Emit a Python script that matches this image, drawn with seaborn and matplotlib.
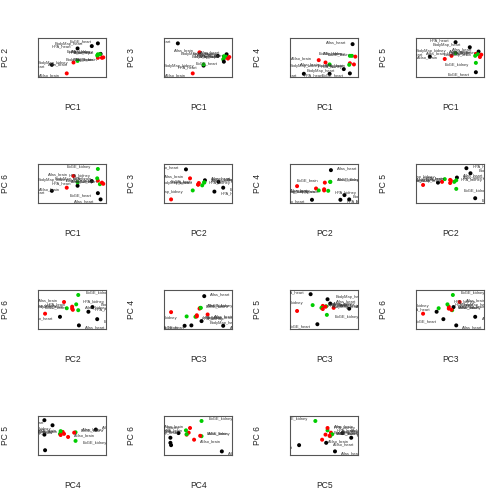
import matplotlib
matplotlib.use("Agg")
import matplotlib.pyplot as plt
import seaborn as sns
import pandas as pd

samples = ["HPA_brain", "HPA_heart", "HPA_kidney", "AltIso_brain", "AltIso_heart",
           "Atlas_brain", "Atlas_heart", "Atlas_kidney", "BodyMap_brain", "BodyMap_heart",
           "BodyMap_kidney", "EoGE_brain", "EoGE_heart", "EoGE_kidney"]
tissue = ["brain", "heart", "kidney", "brain", "heart",
          "brain", "heart", "kidney", "brain", "heart",
          "kidney", "brain", "heart", "kidney"]
pc1 = [-0.17, -0.47, -0.18, -0.63, -0.85, -0.53, -0.13, -0.14, -0.11, -0.26, -0.47, -0.09, -0.17, -0.17]
pc2 = [-0.05, 0.19, 0.01, -0.45, -0.23, -0.17, 0.05, 0.04, -0.05, 0.25, -0.13, -0.04, 0.32, 0.04]
pc3 = [0.03, -0.15, 0.01, -0.35, 0.42, 0.19, 0.14, 0.08, 0.03, 0.10, -0.12, 0.07, -0.05, 0.09]
pc4 = [-0.04, -0.31, -0.08, 0.04, -0.31, -0.02, 0.45, 0.15, -0.07, -0.19, -0.07, 0.13, -0.30, 0.15]
pc5 = [0.15, 0.45, 0.10, 0.02, 0.08, 0.10, 0.21, 0.14, 0.07, 0.32, 0.17, 0.13, -0.32, -0.08]
pc6 = [0.15, 0.02, 0.21, -0.03, -0.11, 0.27, -0.33, 0.06, 0.10, 0.14, 0.11, 0.07, -0.17, 0.45]

df = pd.DataFrame({"sample": samples, "tissue": tissue,
                   "PC1": pc1, "PC2": pc2, "PC3": pc3,
                   "PC4": pc4, "PC5": pc5, "PC6": pc6})

palette = {"brain": "#FF0000", "heart": "#000000", "kidney": "#00CD00"}
LIMS = {"PC1": (-1.05, -0.05), "PC2": (-0.55, 0.45), "PC3": (-0.45, 0.55),
        "PC4": (-0.40, 0.60), "PC5": (-0.45, 0.55), "PC6": (-0.43, 0.57)}

pairs = [(1, 2), (1, 3), (1, 4), (1, 5), (1, 6), (2, 3), (2, 4), (2, 5),
         (2, 6), (3, 4), (3, 5), (3, 6), (4, 5), (4, 6), (5, 6)]

sns.set_style("white")
plt.rcParams["font.family"] = ["Liberation Sans", "DejaVu Sans"]

W = 504.0
fig = plt.figure(figsize=(7, 7), dpi=72)

labels_all = []
for k, (a, b) in enumerate(pairs):
    r, c = divmod(k, 4)
    left = 126 * c + 38.3
    right = 126 * c + 106.0
    top = 126 * r + 38.3
    bottom = 126 * r + 77.3
    ax = fig.add_axes([left / W, 1 - bottom / W, (right - left) / W, (bottom - top) / W])
    xc, yc = f"PC{a}", f"PC{b}"
    sns.scatterplot(data=df, x=xc, y=yc, hue="tissue", palette=palette,
                    s=16, linewidth=0, legend=False, ax=ax, zorder=3)
    ax.set_xlim(*LIMS[xc])
    ax.set_ylim(*LIMS[yc])
    ax.set_xticks([])
    ax.set_yticks([])
    for sp in ax.spines.values():
        sp.set_color("#555555")
        sp.set_linewidth(1.1)
    ax.set_xlabel(f"PC{a}", fontsize=8.5, va="center")
    ax.set_ylabel(f"PC {b}", fontsize=8.5, va="center")
    ax.xaxis.set_label_coords(0.5, -30.0 / 39.0)
    ax.yaxis.set_label_coords(-33.0 / 67.7, 0.5)
    for s, x, y in zip(df["sample"], df[xc], df[yc]):
        t = ax.annotate(s, (x, y), xytext=(0, 0), textcoords="offset points",
                        ha="left" if x >= 0 else "right", va="center",
                        fontsize=4, color="#333333", clip_on=True,
                        annotation_clip=False, zorder=4)
        labels_all.append((t, x >= 0, y >= 0))

fig.canvas.draw()
renderer = fig.canvas.get_renderer()
for t, px, py in labels_all:
    bb = t.get_window_extent(renderer)
    w, h = bb.width, bb.height
    dx = 0.3 * w if px else -0.3 * w
    dy = 0.5 * h if py else -0.5 * h
    t.xyann = (dx, dy)

fig.savefig("out.png", dpi=72)
